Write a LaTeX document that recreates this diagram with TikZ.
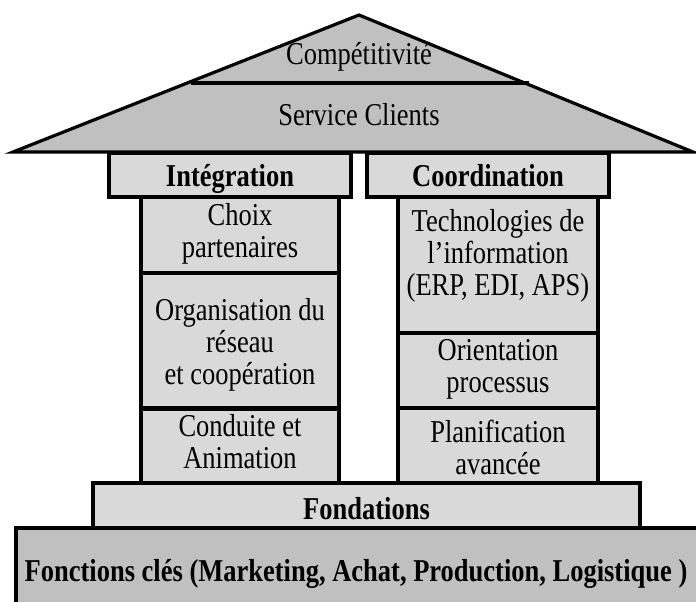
\documentclass[tikz,border=0pt]{standalone}
\usepackage{fontspec}
\usepackage{graphicx}
\setmainfont{Liberation Serif}
\definecolor{roofgray}{HTML}{C0C0C0}
\definecolor{boxgray}{HTML}{D9D9D9}
% text in the reference is drawn a little taller than wide
\newcommand{\talltext}[1]{\scalebox{1}[1.2]{\begin{tabular}{@{}c@{}}#1\end{tabular}}}
\tikzset{
  thickline/.style={line width=3.2pt, line join=miter},
  pillar/.style={thickline, draw=black, fill=boxgray, rectangle, inner sep=0pt,
    align=center, font=\fontsize{26.5}{26.7}\selectfont},
  headbox/.style={pillar, font=\fontsize{26.5}{26.7}\selectfont\bfseries},
  rooftext/.style={inner sep=0pt, font=\fontsize{26.5}{26.7}\selectfont},
  headtext/.style={rooftext, font=\fontsize{26.5}{26.7}\selectfont\bfseries}
}
\begin{document}
\begin{tikzpicture}[x=1pt,y=-1pt]
  \useasboundingbox (0,0) rectangle (696,602);

  % Roof
  \begin{scope}
    \draw[thickline, fill=roofgray] (13,152) -- (359,15) -- (693,152) -- cycle;
    \draw[thickline] (191,83) -- (529,83);
    \node[rooftext] (compet) at (359,58) {\talltext{Compétitivité}};
    \node[rooftext] (service) at (359,119) {\talltext{Service Clients}};
  \end{scope}

  % Left pillar
  \begin{scope}
    \node[headbox, minimum width=242pt, minimum height=44pt] (integ) at (230,175) {};
    \node[headtext] (integtext) at ([yshift=-5pt]integ.center) {\talltext{Intégration}};
    \node[pillar, minimum width=198pt, minimum height=76pt] (choix) at (240,235) {\talltext{Choix\\partenaires}};
    \node[pillar, minimum width=198pt, minimum height=135pt] (orga) at (240,340.5) {};
    \node[rooftext] (orgatext) at ([yshift=-6pt]orga.center) {\talltext{Organisation du\\réseau\\et coopération}};
    \node[pillar, minimum width=198pt, minimum height=75pt] (conduite) at (240,446.5) {\talltext{Conduite et\\Animation}};
  \end{scope}

  % Right pillar
  \begin{scope}
    \node[headbox, minimum width=242pt, minimum height=44pt] (coord) at (488,175) {};
    \node[headtext] (coordtext) at ([yshift=-5pt]coord.center) {\talltext{Coordination}};
    \node[pillar, minimum width=200pt, minimum height=136pt] (techno) at (498,265) {};
    \node[rooftext, anchor=north] (technotext) at ([yshift=-13pt]techno.north) {\talltext{Technologies de\\l’information\\(ERP, EDI, APS)}};
    \node[pillar, minimum width=200pt, minimum height=75pt] (orient) at (498,370.5) {\talltext{Orientation\\processus}};
    \node[pillar, minimum width=200pt, minimum height=75pt] (planif) at (498,445.5) {};
    \node[rooftext] (planiftext) at (498,452) {\talltext{Planification\\avancée}};
  \end{scope}

  % Foundations
  \begin{scope}
    \node[headbox, minimum width=547pt, minimum height=45pt] (fond) at (366.5,505.5) {};
    \node[headtext] (fondtext) at ([yshift=-8pt]fond.center) {\talltext{Fondations}};
    \node[headbox, fill=roofgray, minimum width=700pt, minimum height=87pt] (fonct) at (366,571.5) {};
    \node[headtext] (fonctext) at (356,575) {\talltext{Fonctions clés (Marketing, Achat, Production, Logistique )}};
  \end{scope}
\end{tikzpicture}
\end{document}
